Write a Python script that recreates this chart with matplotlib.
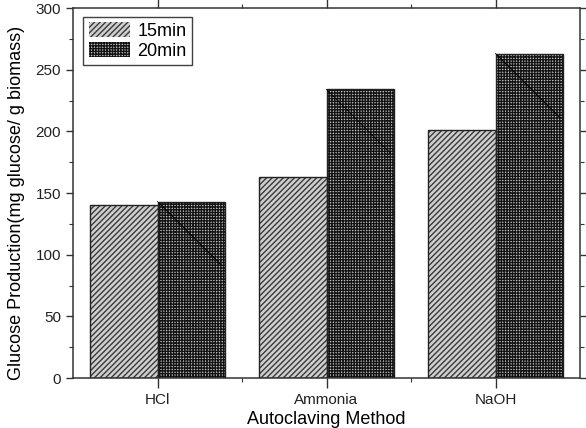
import matplotlib
matplotlib.use("Agg")
import matplotlib.pyplot as plt
import numpy as np

# values
methods = ["HCl", "Ammonia", "NaOH"]
glucose_15min = [140, 163, 201]
glucose_20min = [143, 234, 263]
series_labels = ["15min", "20min"]

plt.rcParams["font.family"] = ["Liberation Sans", "DejaVu Sans"]
plt.rcParams["hatch.linewidth"] = 1.0

fig = plt.figure(figsize=(5.86, 4.28), dpi=100)
ax = fig.add_axes([0.1246, 0.1168, 0.8652, 0.8645])

x = np.arange(1, len(methods) + 1)
w = 0.4
spine_col = "#333333"


def hatched_bars(xpos, heights, face, hatch, hatch_col):
    # hatch colour follows edgecolor, so draw fill and outline separately
    ax.bar(xpos, heights, w, color=face, edgecolor=hatch_col, hatch=hatch,
           linewidth=0, zorder=2)
    ax.bar(xpos, heights, w, fill=False, edgecolor="#222222",
           linewidth=1.0, zorder=3)
    return plt.Rectangle((0, 0), 1, 1, facecolor=face, edgecolor=hatch_col,
                         hatch=hatch, linewidth=0)


h15 = hatched_bars(x - w / 2, glucose_15min, "#cfcfcf", "//////", "#3a3a3a")
h20 = hatched_bars(x + w / 2, glucose_20min, "#c4c4c4", "++++++", "#141414")

# thin diagonal streak seen inside the 20min bars of the original export
for xi, hi in zip(x + w / 2, glucose_20min):
    ax.plot([xi - w / 2, xi + w / 2 - 0.02], [hi, hi - 52],
            color="#000000", linewidth=0.6, zorder=4)

ax.set_xlim(0.5, 3.5)
ax.set_ylim(0, 300)
ax.set_xticks(x)
ax.set_xticklabels(methods)
ax.set_xticks([1.5, 2.5], minor=True)
ax.set_yticks(np.arange(0, 301, 50))
ax.set_yticks(np.arange(25, 300, 50), minor=True)

for s in ax.spines.values():
    s.set_color(spine_col)
    s.set_linewidth(1.1)

ax.tick_params(which="major", direction="out", length=5, width=1.0,
               colors=spine_col, labelsize=11, labelcolor="#222222",
               top=True, right=True)
ax.tick_params(which="minor", direction="out", length=3, width=0.8,
               colors=spine_col, top=True, right=True)
ax.tick_params(axis="x", which="major", length=7, pad=4)

ax.set_xlabel("Autoclaving Method", fontsize=13, labelpad=3)
ax.set_ylabel("Glucose Production(mg glucose/ g biomass)", fontsize=13)
ax.yaxis.set_label_coords(-0.095, 0.473)

leg = ax.legend([h15, h20], series_labels, loc="upper left", fontsize=13,
                frameon=True, fancybox=False, handlelength=2.3,
                handleheight=0.85, handletextpad=0.4, borderpad=0.3,
                labelspacing=0.15, borderaxespad=0,
                bbox_to_anchor=(0.02, 0.976))
leg.get_frame().set_edgecolor("#111111")
leg.get_frame().set_linewidth(1.0)

fig.savefig("out.png", dpi=100)
